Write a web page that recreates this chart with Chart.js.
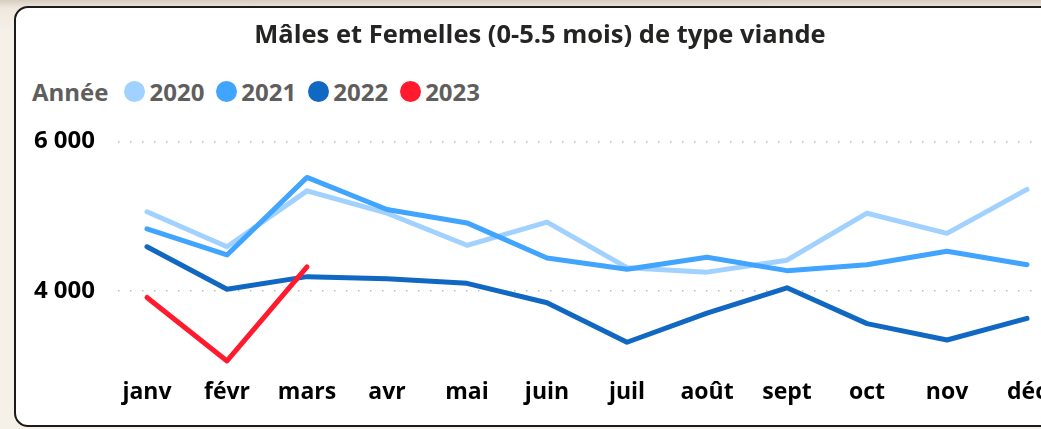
<!DOCTYPE html>
<html lang="fr">
<head>
<meta charset="utf-8">
<script src="https://cdn.jsdelivr.net/npm/chart.js@4.4.0/dist/chart.umd.min.js"></script>
<style>
    body { margin: 0; width: 1041px; height: 429px; overflow: hidden; position: relative;
           background: linear-gradient(#d6cdc0 0px, #efe8dd 8px, #f5f0e8 30px); font-family: "Open Sans", sans-serif; }
    #card { position: absolute; left: 14px; top: 6px; width: 1100px; height: 421px; box-sizing: border-box;
            background: #fff; border: 2px solid #1b1b1b; border-radius: 14px; }
    #legend { position: absolute; left: 32px; top: 74px; height: 34px; display: flex; align-items: center;
              font-size: 24px; font-weight: 700; color: #605e5c; white-space: nowrap; }
    #legend .title { margin-right: 16px; }
    #legend .item { display: flex; align-items: center; margin-right: 12px; }
    #legend .dot { width: 21px; height: 21px; border-radius: 50%; margin-right: 4px; }
    #chart { position: absolute; left: 0; top: 0; }
</style>
</head>
<body>
<div id="card"></div>
<div id="legend"><span class="title">Année</span></div>
<canvas id="chart" width="1080" height="429"></canvas>
<script>
// Month labels on the x axis
const months = ["janv", "févr", "mars", "avr", "mai", "juin", "juil", "août", "sept", "oct", "nov", "déc"];

// Values per year
const years = ["2020", "2021", "2022", "2023"];
const values2020 = [5060, 4590, 5340, 5040, 4610, 4920, 4310, 4250, 4410, 5040, 4770, 5360];
const values2021 = [4830, 4480, 5520, 5090, 4910, 4440, 4290, 4450, 4270, 4350, 4530, 4350];
const values2022 = [4590, 4020, 4190, 4160, 4100, 3840, 3310, 3700, 4040, 3560, 3340, 3630];
const values2023 = [3910, 3060, 4320];
const yTicks = [4000, 6000];

const colors = ["#a0d1ff", "#41a4ff", "#1168c2", "#ff1a2e"];
const allValues = [values2020, values2021, values2022, values2023];

// Build HTML legend
const legend = document.getElementById("legend");
years.forEach((year, i) => {
    const item = document.createElement("span");
    item.className = "item";
    item.innerHTML = `<span class="dot" style="background:${colors[i]}"></span>${year}`;
    legend.appendChild(item);
});

// Format like "6 000"
function formatNumber(v) {
    return v.toString().replace(/\B(?=(\d{3})+(?!\d))/g, " ");
}

const datasets = years.map((year, i) => ({
    label: year,
    data: allValues[i].map((v, idx) => ({ x: idx, y: v })),
    borderColor: colors[i],
    backgroundColor: colors[i],
    borderWidth: 5,
    pointRadius: 0,
    tension: 0,
    borderCapStyle: "round",
    borderJoinStyle: "round",
    order: years.length - 1 - i
}));

new Chart(document.getElementById("chart").getContext("2d"), {
    type: "line",
    data: { datasets: datasets },
    options: {
        responsive: false,
        animation: false,
        layout: { padding: { left: 0, right: 0, top: 0, bottom: 10 } },
        plugins: {
            legend: { display: false },
            tooltip: { enabled: false },
            title: {
                display: true,
                text: "Mâles et Femelles (0-5.5 mois) de type viande",
                color: "#252423",
                font: { family: "Open Sans", size: 25.5, weight: "bold" },
                padding: { top: 20, bottom: 91 }
            }
        },
        scales: {
            x: {
                type: "linear",
                min: -0.3625,
                max: 11.6625,
                grid: { display: false, drawTicks: false },
                border: { display: false },
                afterBuildTicks: scale => { scale.ticks = months.map((m, i) => ({ value: i })); },
                ticks: {
                    autoSkip: false,
                    maxRotation: 0,
                    padding: 13,
                    color: "#000",
                    font: { family: "Open Sans", size: 23, weight: "bold" },
                    callback: v => months[v]
                }
            },
            y: {
                min: 3000,
                max: 6000,
                afterFit: scale => { scale.width = 118; },
                afterBuildTicks: scale => { scale.ticks = yTicks.map(v => ({ value: v })); },
                grid: { color: "#bdbbb9", lineWidth: 1.5, drawTicks: false },
                border: { display: false, dash: [1.5, 10.5] },
                ticks: {
                    padding: 23,
                    color: "#000",
                    font: { family: "Open Sans", size: 24, weight: "bold" },
                    callback: v => formatNumber(v)
                }
            }
        }
    }
});
</script>
</body>
</html>
